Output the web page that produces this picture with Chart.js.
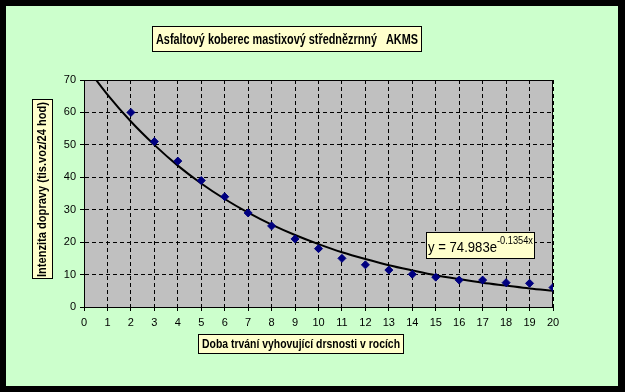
<!DOCTYPE html>
<html>
<head>
<meta charset="utf-8">
<script src="https://cdn.jsdelivr.net/npm/chart.js@4/dist/chart.umd.min.js"></script>
<style>
  html, body { margin: 0; padding: 0; background: #000; }
  #wrap { width: 625px; height: 392px; }
</style>
</head>
<body>
<div id="wrap"><canvas id="akmsChart" width="625" height="392"></canvas></div>
<script>
// Data
const years = [2, 3, 4, 5, 6, 7, 8, 9, 10, 11, 12, 13, 14, 15, 16, 17, 18, 19, 20];
const traffic = [60, 51, 45, 39, 34, 29, 25, 21, 18, 15, 13, 11.4, 10.1, 9.2, 8.3, 8.3, 7.5, 7.3, 6];

// Trendline values
const trendX = [0, 1, 2, 3, 4, 5, 6, 7, 8, 9, 10, 11, 12, 13, 14, 15, 16, 17, 18, 19, 20];
const trendY = [75.0, 65.5, 57.2, 50.0, 43.6, 38.1, 33.3, 29.1, 25.4, 22.2, 19.4, 16.9, 14.8, 12.9, 11.3, 9.8, 8.6, 7.5, 6.6, 5.7, 5.0];

const chartTitle = 'Asfaltový koberec mastixový střednězrnný   AKMS';
const xTitle = 'Doba trvání vyhovující drsnosti v rocích';
const yTitle = 'Intenzita dopravy (tis.voz/24 hod)';
const eqMain = 'y = 74.983e';
const eqExp = '-0.1354x';

const FONT = '"Liberation Sans", Arial, sans-serif';

// background: black frame, pale green sheet, gray plot area
const backgroundPlugin = {
  id: 'sheetBg',
  beforeDraw(chart) {
    const { ctx, chartArea: a } = chart;
    ctx.save();
    ctx.fillStyle = '#000';
    ctx.fillRect(0, 0, chart.width, chart.height);
    ctx.fillStyle = '#CCFFCC';
    ctx.fillRect(6, 6, 612, 380);
    ctx.fillStyle = '#C0C0C0';
    ctx.fillRect(a.left, a.top, a.right - a.left, a.bottom - a.top);
    ctx.restore();
  },
  beforeDatasetsDraw(chart) {
    const { ctx, chartArea: a } = chart;
    ctx.save();
    ctx.strokeStyle = '#000';
    ctx.lineWidth = 1;
    ctx.strokeRect(a.left + 0.5, a.top + 0.5, a.right - a.left - 1, a.bottom - a.top);
    ctx.restore();
  }
};

function box(ctx, x, y, w, h, fill) {
  ctx.fillStyle = fill;
  ctx.fillRect(x, y, w, h);
  ctx.strokeStyle = '#000';
  ctx.lineWidth = 1;
  ctx.strokeRect(x + 0.5, y + 0.5, w - 1, h - 1);
}

// draw text squeezed horizontally to a given width (the original uses a narrow face)
function fitText(ctx, text, x, y, width, align) {
  const w = ctx.measureText(text).width;
  const s = width / w;
  ctx.save();
  ctx.translate(x, y);
  ctx.scale(s, 1);
  ctx.textAlign = align || 'center';
  ctx.fillText(text, 0, 0);
  ctx.restore();
}

// title, axis titles and the trendline equation label
const labelsPlugin = {
  id: 'boxedLabels',
  afterDraw(chart) {
    const ctx = chart.ctx;
    ctx.save();
    ctx.textBaseline = 'middle';

    box(ctx, 152, 26, 270, 26, '#FFFFCC');
    ctx.fillStyle = '#000';
    ctx.font = 'bold 15px ' + FONT;
    fitText(ctx, chartTitle, 287, 39.5, 262);

    box(ctx, 198, 334, 206, 20, '#FFFFCC');
    ctx.fillStyle = '#000';
    ctx.font = 'bold 12px ' + FONT;
    fitText(ctx, xTitle, 301, 344.5, 198);

    box(ctx, 32, 99, 21, 180, '#FFFFCC');
    ctx.save();
    ctx.translate(43, 189.5);
    ctx.rotate(-Math.PI / 2);
    ctx.fillStyle = '#000';
    ctx.font = 'bold 12px ' + FONT;
    fitText(ctx, yTitle, 0, 0, 175);
    ctx.restore();

    box(ctx, 426, 232, 109, 27, '#FFFFCC');
    ctx.fillStyle = '#000';
    ctx.textBaseline = 'alphabetic';
    ctx.font = '15px ' + FONT;
    fitText(ctx, eqMain, 428, 252, 69, 'left');
    ctx.font = '10px ' + FONT;
    fitText(ctx, eqExp, 497, 244, 36, 'left');
    ctx.restore();
  }
};

const ctx = document.getElementById('akmsChart').getContext('2d');

new Chart(ctx, {
  type: 'scatter',
  data: {
    datasets: [
      {
        label: 'Intenzita',
        data: years.map((x, i) => ({ x: x, y: traffic[i] })),
        pointStyle: 'rectRot',
        pointRadius: 4,
        pointHoverRadius: 4,
        backgroundColor: '#000080',
        borderColor: '#000080',
        borderWidth: 1,
        showLine: false,
        order: 1
      },
      {
        label: 'Trend',
        data: trendX.map((x, i) => ({ x: x, y: trendY[i] })),
        showLine: true,
        pointRadius: 0,
        borderColor: '#000',
        borderWidth: 2,
        cubicInterpolationMode: 'monotone',
        order: 2
      }
    ]
  },
  options: {
    responsive: false,
    animation: false,
    devicePixelRatio: 1,
    layout: { padding: { left: 0, top: 80, right: 72, bottom: 0 } },
    plugins: {
      legend: { display: false },
      tooltip: { enabled: false },
      title: { display: false }
    },
    scales: {
      x: {
        type: 'linear',
        min: 0,
        max: 20,
        ticks: { stepSize: 1, color: '#000', font: { family: FONT, size: 11 }, padding: 5, maxRotation: 0 },
        grid: { color: '#000', lineWidth: 1, tickLength: 4, tickBorderDash: [], tickColor: '#000' },
        border: { color: '#000', width: 1, dash: [4, 3] },
        afterFit(scale) { scale.height = 85; }
      },
      y: {
        min: 0,
        max: 70,
        ticks: { stepSize: 10, color: '#000', font: { family: FONT, size: 11 }, padding: 4 },
        grid: { color: '#000', lineWidth: 1, tickLength: 4, tickBorderDash: [], tickColor: '#000' },
        border: { color: '#000', width: 1, dash: [4, 3] },
        afterFit(scale) { scale.width = 84; }
      }
    }
  },
  plugins: [backgroundPlugin, labelsPlugin]
});
</script>
</body>
</html>
